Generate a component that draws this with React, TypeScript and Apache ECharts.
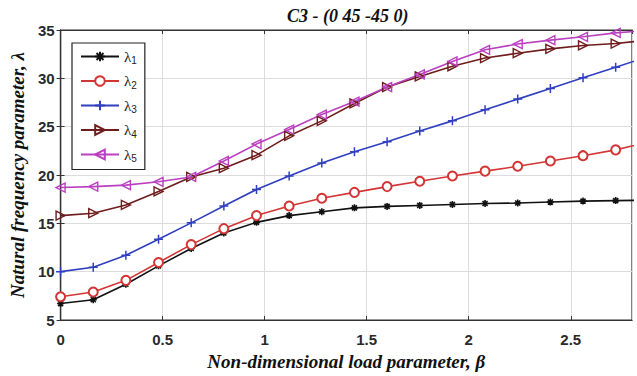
import React, { useEffect, useRef } from "react";
import * as echarts from "echarts";

const betaValues = [0, 0.16, 0.32, 0.48, 0.64, 0.8, 0.96, 1.12, 1.28, 1.44, 1.6, 1.76, 1.92, 2.08, 2.24, 2.4, 2.56, 2.72, 2.88];
const lambda1 = [6.7, 7.1, 8.7, 10.6, 12.4, 14.0, 15.1, 15.8, 16.2, 16.6, 16.75, 16.85, 16.95, 17.05, 17.1, 17.2, 17.3, 17.35, 17.4];
const lambda2 = [7.4, 7.9, 9.1, 10.95, 12.8, 14.45, 15.8, 16.8, 17.6, 18.2, 18.8, 19.35, 19.9, 20.4, 20.9, 21.45, 22.0, 22.6, 23.4];
const lambda3 = [10.0, 10.45, 11.7, 13.35, 15.05, 16.8, 18.5, 19.9, 21.25, 22.4, 23.45, 24.55, 25.6, 26.75, 27.85, 28.95, 30.05, 31.15, 32.25];
const lambda4 = [15.8, 16.05, 16.9, 18.3, 19.8, 20.7, 22.05, 24.05, 25.6, 27.4, 29.1, 30.2, 31.25, 32.1, 32.6, 33.05, 33.4, 33.6, 33.95];
const lambda5 = [18.7, 18.8, 18.95, 19.3, 19.8, 21.45, 23.2, 24.7, 26.25, 27.6, 29.1, 30.4, 31.75, 32.95, 33.55, 33.95, 34.3, 34.7, 34.95];
const seriesNames = ["λ1", "λ2", "λ3", "λ4", "λ5"];
const xTicks = { min: 0, max: 2.8, interval: 0.5 };
const yTicks = { min: 5, max: 35, interval: 5 };

const ASTERISK = "path://M0,-5L0,5M-5,0L5,0M-3.6,-3.6L3.6,3.6M-3.6,3.6L3.6,-3.6";
const PLUS = "path://M0,-5L0,5M-5,0L5,0";
const TRI_RIGHT = "path://M-4,-5L5,0L-4,5Z";
const TRI_LEFT = "path://M4,-5L-5,0L4,5Z";

export default function App() {
  const ref = useRef<HTMLDivElement>(null);
  useEffect(() => {
    if (!ref.current) return;
    const chart = echarts.init(ref.current, null, { renderer: "svg" });
    const mk = (name: string, data: number[], color: string, symbol: string, size: number, fill: string, bw: number) => ({
      name,
      type: "line",
      data: betaValues.map((b, i) => [b, data[i]]),
      clip: true,
      symbol,
      symbolSize: size,
      showAllSymbol: true,
      lineStyle: { color, width: 1.6 },
      itemStyle: { color: fill, borderColor: color, borderWidth: bw },
      emphasis: { disabled: true },
    });
    const tickFont = { fontFamily: "Liberation Sans", fontWeight: "bold", fontSize: 15, color: "#2a2a2a" };
    const nameFont = { fontFamily: "Liberation Serif", fontWeight: "bold", fontStyle: "italic", fontSize: 19, color: "#111" };
    chart.setOption({
      animation: false,
      backgroundColor: "#fff",
      title: {
        text: "C3 - (0 45 -45 0)",
        left: 282,
        top: 2,
        textStyle: { fontFamily: "Liberation Serif", fontWeight: "bold", fontStyle: "italic", fontSize: 18, color: "#111" },
      },
      grid: { left: 59, top: 30, right: 5, bottom: 53, show: true, borderColor: "#333", borderWidth: 1.2 },
      legend: {
        orient: "vertical",
        left: 72,
        top: 43,
        padding: [6, 8, 6, 8],
        itemWidth: 38,
        itemHeight: 12,
        itemGap: 8,
        borderColor: "#222",
        borderWidth: 1.2,
        backgroundColor: "#fff",
        inactiveColor: "#222",
        data: seriesNames,
        formatter: (n: string) => `{l|λ}{s|${n.slice(1)}}`,
        textStyle: {
          color: "#222",
          padding: [0, 0, 0, 0],
          rich: {
            l: { fontFamily: "Liberation Serif", fontSize: 15, color: "#222" },
            s: { fontFamily: "Liberation Sans", fontSize: 10, color: "#222", padding: [8, 0, 0, 0] },
          },
        },
      },
      xAxis: [
        {
          type: "value",
          ...xTicks,
          name: "Non-dimensional load parameter, β",
          nameLocation: "middle",
          nameGap: 32,
          nameTextStyle: nameFont,
          axisLine: { show: true, lineStyle: { color: "#333", width: 1.2 } },
          axisTick: { show: true, inside: true, length: 4, lineStyle: { color: "#333" } },
          axisLabel: { ...tickFont, margin: 12, showMaxLabel: false },
          splitLine: { show: true, lineStyle: { color: "#dcdcdc", width: 1 } },
        },
        {
          type: "value",
          position: "top",
          ...xTicks,
          axisLine: { show: true, lineStyle: { color: "#333", width: 1.2 } },
          axisTick: { show: true, inside: true, length: 4, lineStyle: { color: "#333" } },
          axisLabel: { show: false },
          splitLine: { show: false },
        },
      ],
      yAxis: [
        {
          type: "value",
          ...yTicks,
          name: "Natural frequency parameter, λ",
          nameLocation: "middle",
          nameGap: 33,
          nameTextStyle: nameFont,
          axisLine: { show: true, lineStyle: { color: "#333", width: 1.2 } },
          axisTick: { show: true, inside: true, length: 4, lineStyle: { color: "#333" } },
          axisLabel: { ...tickFont, margin: 6 },
          splitLine: { show: true, lineStyle: { color: "#dcdcdc", width: 1 } },
        },
        {
          type: "value",
          position: "right",
          ...yTicks,
          axisLine: { show: true, lineStyle: { color: "#333", width: 1.2 } },
          axisTick: { show: true, inside: true, length: 4, lineStyle: { color: "#333" } },
          axisLabel: { show: false },
          splitLine: { show: false },
        },
      ],
      series: [
        mk(seriesNames[0], lambda1, "#111111", ASTERISK, 7, "#111111", 1.6),
        mk(seriesNames[1], lambda2, "#d33434", "emptyCircle", 9, "#d33434", 1.4),
        mk(seriesNames[2], lambda3, "#2f3fbf", PLUS, 9, "#2f3fbf", 1.5),
        mk(seriesNames[3], lambda4, "#6e1c1c", TRI_RIGHT, 9, "rgba(255,255,255,0)", 1.4),
        mk(seriesNames[4], lambda5, "#bb40c0", TRI_LEFT, 9, "rgba(255,255,255,0)", 1.4),
      ],
    });
    return () => chart.dispose();
  }, []);
  return <div ref={ref} style={{ position: "fixed", left: 0, top: 0, width: 637, height: 376 }} />;
}
